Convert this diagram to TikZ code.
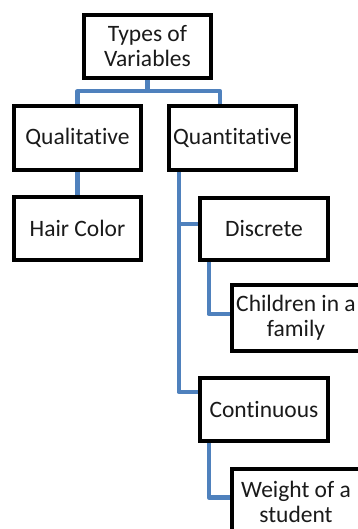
\documentclass[tikz,border=0pt]{standalone}
\usepackage{fontspec}
\setmainfont{Carlito}[Ligatures=NoCommon]
\usetikzlibrary{backgrounds}
\definecolor{connblue}{HTML}{4F81BD}
\definecolor{txt}{HTML}{1A1A1A}
\tikzset{
  box/.style={draw=black, line width=4.5pt, fill=white, text=txt, align=center,
    inner sep=0pt, font=\fontsize{23.5}{25}\selectfont},
  conn/.style={draw=connblue, line width=4.5pt, line join=round}
}
\begin{document}
\begin{tikzpicture}[x=1pt,y=-1pt]
\useasboundingbox (0,0) rectangle (358,529);
\clip (0,0) rectangle (358,529);
\node[box, minimum width=127pt, minimum height=63pt] (top) at (147.5,46.5) {Types of\\Variables};
\node[box, minimum width=127pt, minimum height=64pt] (qual) at (77.5,138) {Qualitative};
\node[box, minimum width=127pt, minimum height=64pt] (quan) at (232.5,138) {Quantitative};
\node[box, minimum width=127pt, minimum height=63pt] (hair) at (77.5,228.5) {Hair Color};
\node[box, minimum width=128pt, minimum height=62pt] (disc) at (264,229) {Discrete};
\node[box, minimum width=128pt, minimum height=66pt] (child) at (296,318) {Children in a\\family};
\node[box, minimum width=128pt, minimum height=63pt] (cont) at (264,409.5) {Continuous};
\node[box, minimum width=128pt, minimum height=66pt] (weight) at (296,502) {Weight of a\\student};
\begin{scope}[on background layer]
\coordinate (tj) at ([yshift=-11pt]top.south);
\draw[conn] (top.south) -- (tj);
\draw[conn] (tj) -| (qual.north);
\draw[conn] (tj) -| ([xshift=-12.5pt]quan.north);
\draw[conn] (qual.south) -- (hair.north);
\coordinate (qs) at ([xshift=12pt]quan.south west);
\draw[conn] (qs) |- ([yshift=5pt]disc.west);
\draw[conn] (qs) |- ([yshift=17.5pt]cont.west);
\draw[conn] ([xshift=11pt]disc.south west) |- ([yshift=4pt]child.west);
\draw[conn] ([xshift=11pt]cont.south west) |- ([yshift=4.5pt]weight.west);
\end{scope}
\end{tikzpicture}
\end{document}
